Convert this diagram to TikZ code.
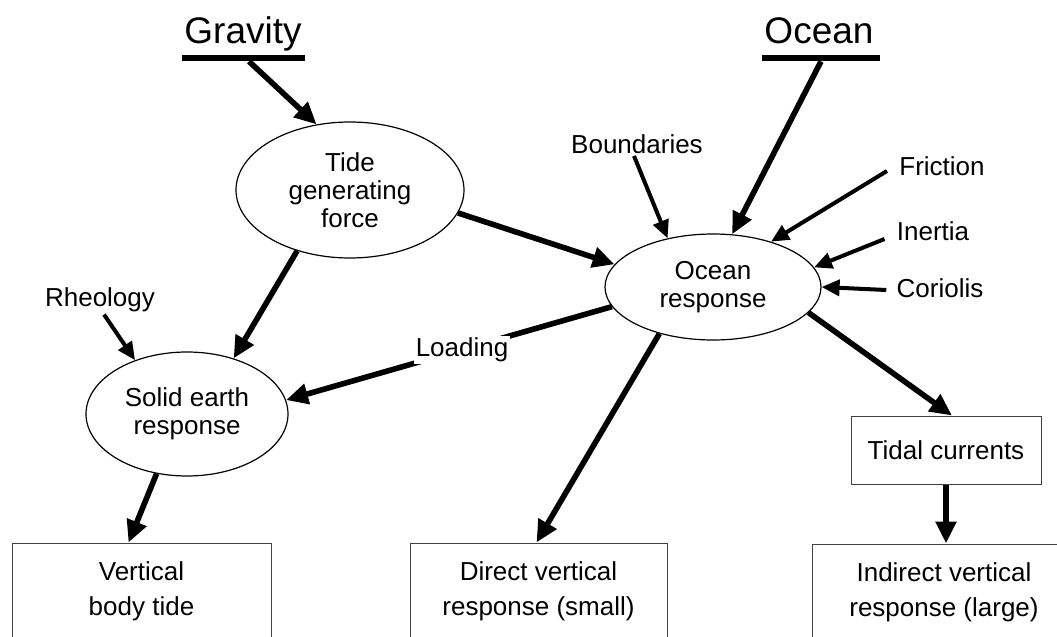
\documentclass[tikz,border=0pt]{standalone}
\usepackage{fontspec}
\setmainfont{Liberation Sans}
\usetikzlibrary{arrows.meta,shapes.geometric}
\begin{document}
\begin{tikzpicture}[x=0.5pt,y=-0.5pt] % coordinates in pixels, y downwards
\tikzstyle{heading} = [font=\fontsize{18.5}{20}\selectfont, inner sep=0pt, anchor=base] % Gravity / Ocean
\tikzstyle{headbar} = [fill, minimum height=3pt, inner sep=0pt] % thick bar under a heading
\tikzstyle{blob} = [ellipse, draw, line width=0.6pt, inner sep=0pt, align=center, font=\fontsize{13}{14}\selectfont] % ellipse nodes
\tikzstyle{box} = [draw=black!75, line width=0.5pt, inner sep=0pt, align=center, font=\fontsize{13}{17.5}\selectfont] % rectangle nodes
\tikzstyle{factor} = [font=\fontsize{13}{15}\selectfont, inner sep=1pt] % small influence labels
\tikzstyle{bigarrow} = [line width=2.8pt, -{Triangle[length=11pt,width=10pt]}]
\tikzstyle{smallarrow} = [line width=2pt, -{Triangle[length=9pt,width=8pt]}]
\useasboundingbox (0,0) rectangle (1057,637);
\clip (0,0) rectangle (1057,637);
% headings
\node[heading] (gravity) at (243,43) {Gravity};
\node[headbar, minimum width=61.5pt] (gbar) at (243,58) {};
\node[heading] (oceanhead) at (819,43) {Ocean};
\node[headbar, minimum width=59pt] (obar) at (821,58) {};
% ellipses
\node[blob, minimum width=114pt, minimum height=68pt] (tide) at (350,190) {Tide\\generating\\force};
\node[blob, minimum width=108pt, minimum height=53pt] (ocean) at (713,287) {Ocean\\response};
\node[blob, minimum width=101pt, minimum height=62pt] (solid) at (187,414) {Solid earth\\response};
% boxes
\node[box, minimum width=95pt, minimum height=34pt] (tidal) at (946,450) {Tidal currents};
\node[box, minimum width=129.5pt, minimum height=48pt] (vtide) at (141.5,591) {Vertical\\body tide};
\node[box, minimum width=128.5pt, minimum height=48pt] (direct) at (538.5,591) {Direct vertical\\response (small)};
\node[box, minimum width=132pt, minimum height=48pt] (indirect) at (944,592) {Indirect vertical\\response (large)};
% influences
\node[factor] (bound) at (637,144) {Boundaries};
\node[factor] (fric) at (942,166) {Friction};
\node[factor] (inert) at (933,231) {Inertia};
\node[factor] (cor) at (940,288) {Coriolis};
\node[factor] (rheo) at (100,300) {Rheology};
% main arrows
\draw[bigarrow] ([xshift=3pt]gbar.south) -- (tide.117);
\draw[bigarrow] (obar.south) -- (ocean.70);
\draw[bigarrow] (tide.348) -- (ocean.167);
\draw[bigarrow] (tide.229) -- (solid.50);
\draw[bigarrow] (ocean.191) -- node[pos=0.46, fill=white, factor] (load) {Loading} (solid.8);
\draw[bigarrow] (solid.243) -- ([xshift=-6.5pt]vtide.north);
\draw[bigarrow] (ocean.221) -- ([xshift=-1pt]direct.north);
\draw[bigarrow] (ocean.345) -- ([xshift=3pt]tidal.north);
\draw[bigarrow] (tidal.south) -- (tidal.south |- indirect.north);
% small arrows
\draw[smallarrow] ([xshift=-1.5pt]bound.south) -- (ocean.133);
\draw[smallarrow] ([shift={(-5pt,-2.5pt)}]fric.west) -- (ocean.38);
\draw[smallarrow] ([shift={(-5pt,-4pt)}]inert.west) -- (ocean.11);
\draw[smallarrow] ([shift={(-4pt,-1pt)}]cor.west) -- (ocean.east);
\draw[smallarrow] ([xshift=2pt]rheo.south) -- (solid.134);
\end{tikzpicture}
\end{document}
